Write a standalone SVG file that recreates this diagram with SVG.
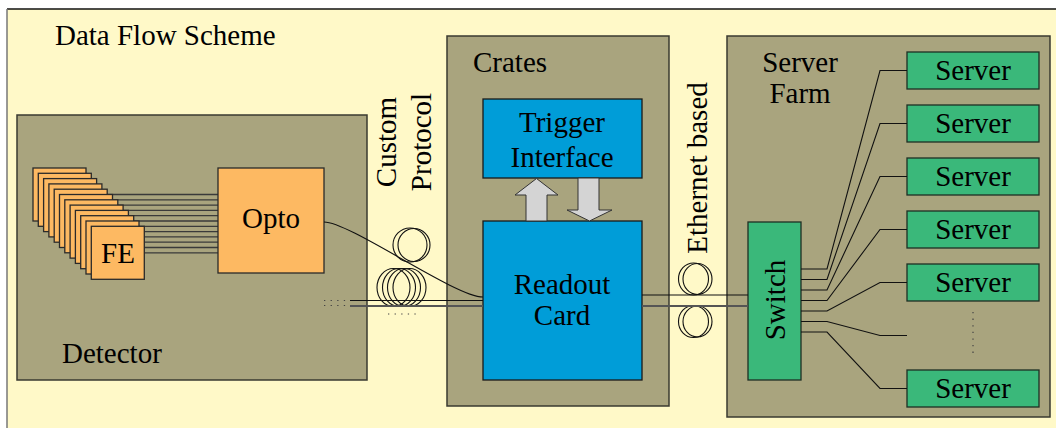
<svg xmlns="http://www.w3.org/2000/svg" width="1056" height="428" viewBox="0 0 1056 428">
  <style>
    text { font-family: 'Liberation Serif', 'DejaVu Serif', 'Times New Roman', serif; font-size: 29px; fill: #000; }
    .mid { text-anchor: middle; }
    .area { fill: #A9A47E; stroke: #3a3a30; stroke-width: 1.5; }
    .orange { fill: #FDB962; stroke: #2a2a2a; stroke-width: 1.3; }
    .blue { fill: #009DD8; stroke: #1a1a1a; stroke-width: 1.3; }
    .green { fill: #3AB87A; stroke: #1e2e24; stroke-width: 1.3; }
    .wire { fill: none; stroke: #111; stroke-width: 1.1; }
    .wire2 { fill: none; stroke: #555; stroke-width: 2; }
    .bus { fill: none; stroke: #3a3a3a; stroke-width: 1.3; }
    .loop { fill: none; stroke: #111; stroke-width: 1.1; }
    .dots { fill: none; stroke: #444; stroke-width: 1.2; stroke-dasharray: 1.3 5.3; }
    .flow { fill: #D4D4D4; stroke: #333; stroke-width: 1; }
  </style>

  <!-- page background and frame -->
  <rect x="0" y="0" width="1056" height="428" fill="#ffffff"/>
  <rect x="7" y="9" width="1060" height="430" fill="#FFF9C8"/>
  <line x1="7" y1="9" x2="1056" y2="9" stroke="#111" stroke-width="1.5"/>
  <line x1="7" y1="9" x2="7" y2="428" stroke="#777" stroke-width="1.5"/>

  <text x="55" y="45">Data Flow Scheme</text>

  <!-- Detector area -->
  <g id="detector">
    <rect class="area" x="17" y="115" width="350" height="265"/>
    <text x="62" y="363">Detector</text>
  </g>

  <!-- Front-end to Opto bundle (drawn under the FE stack) -->
  <g id="fe-bus">
    <line class="bus" x1="59.5" y1="194.5" x2="218" y2="194.5"/>
    <line class="bus" x1="64.8" y1="199.8" x2="218" y2="199.8"/>
    <line class="bus" x1="70.1" y1="205.1" x2="218" y2="205.1"/>
    <line class="bus" x1="75.4" y1="210.4" x2="218" y2="210.4"/>
    <line class="bus" x1="80.7" y1="215.7" x2="218" y2="215.7"/>
    <line class="bus" x1="86.0" y1="221.0" x2="218" y2="221.0"/>
    <line class="bus" x1="91.3" y1="226.3" x2="218" y2="226.3"/>
    <line class="bus" x1="96.6" y1="231.6" x2="218" y2="231.6"/>
    <line class="bus" x1="101.9" y1="236.9" x2="218" y2="236.9"/>
    <line class="bus" x1="107.2" y1="242.2" x2="218" y2="242.2"/>
    <line class="bus" x1="112.5" y1="247.5" x2="218" y2="247.5"/>
    <line class="bus" x1="117.8" y1="252.8" x2="218" y2="252.8"/>
  </g>

  <!-- Front-end card stack -->
  <g id="fe">
    <rect class="orange" x="33" y="168" width="53" height="53"/>
    <rect class="orange" x="38.3" y="173.3" width="53" height="53"/>
    <rect class="orange" x="43.6" y="178.6" width="53" height="53"/>
    <rect class="orange" x="48.9" y="183.9" width="53" height="53"/>
    <rect class="orange" x="54.2" y="189.2" width="53" height="53"/>
    <rect class="orange" x="59.5" y="194.5" width="53" height="53"/>
    <rect class="orange" x="64.8" y="199.8" width="53" height="53"/>
    <rect class="orange" x="70.1" y="205.1" width="53" height="53"/>
    <rect class="orange" x="75.4" y="210.4" width="53" height="53"/>
    <rect class="orange" x="80.7" y="215.7" width="53" height="53"/>
    <rect class="orange" x="86.0" y="221.0" width="53" height="53"/>
    <rect class="orange" x="91.3" y="226.3" width="53" height="53"/>
    <text class="mid" x="118" y="263">FE</text>
  </g>

  <g id="opto">
    <rect class="orange" x="218" y="168" width="106" height="105"/>
    <text class="mid" x="271" y="228">Opto</text>
  </g>

  <!-- Crates -->
  <g id="crates">
    <rect class="area" x="447" y="36" width="222" height="370"/>
    <text x="473" y="72">Crates</text>
  </g>

  <g id="trigger-interface">
    <rect class="blue" x="483" y="99" width="159" height="79"/>
    <text class="mid" x="562" y="132">Trigger</text>
    <text class="mid" x="562" y="167">Interface</text>
  </g>

  <g id="readout-card">
    <rect class="blue" x="483" y="221" width="159" height="159"/>
    <text class="mid" x="562" y="294">Readout</text>
    <text class="mid" x="562" y="325">Card</text>
  </g>

  <!-- Server farm -->
  <g id="server-farm">
    <rect class="area" x="727" y="36" width="323" height="381"/>
    <text class="mid" x="800" y="72">Server</text>
    <text class="mid" x="800" y="103">Farm</text>
  </g>

  <g id="switch">
    <rect class="green" x="748" y="222" width="53" height="158"/>
    <text class="mid" transform="translate(785,300) rotate(-90)">Switch</text>
  </g>

  <g id="server-1">
    <rect class="green" x="907" y="52" width="132" height="37"/>
    <text class="mid" x="973" y="80">Server</text>
  </g>
  <g id="server-2">
    <rect class="green" x="907" y="105" width="132" height="37"/>
    <text class="mid" x="973" y="133">Server</text>
  </g>
  <g id="server-3">
    <rect class="green" x="907" y="158" width="132" height="37"/>
    <text class="mid" x="973" y="186">Server</text>
  </g>
  <g id="server-4">
    <rect class="green" x="907" y="211" width="132" height="37"/>
    <text class="mid" x="973" y="239">Server</text>
  </g>
  <g id="server-5">
    <rect class="green" x="907" y="264" width="132" height="37"/>
    <text class="mid" x="973" y="292">Server</text>
  </g>
  <g id="server-n">
    <rect class="green" x="907" y="370" width="132" height="37"/>
    <text class="mid" x="973" y="398">Server</text>
  </g>

  <!-- link labels -->
  <text class="mid" transform="translate(396,142) rotate(-90)">Custom</text>
  <text class="mid" transform="translate(431,142) rotate(-90)">Protocol</text>
  <text class="mid" transform="translate(707,168) rotate(-90)">Ethernet based</text>

  <!-- Connectors -->
  <g id="connectors">
    <!-- trigger / readout exchange -->
    <path class="flow" d="M526,221 V195 H515 L536.5,178.5 L558,195 H547 V221 Z"/>
    <path class="flow" d="M578,178 V210 H567 L589.5,221 L612,210 H599 V178 Z"/>

    <!-- custom protocol fibre bundle -->
    <ellipse class="loop" cx="410" cy="245" rx="17" ry="17"/>
    <ellipse class="loop" cx="414" cy="245" rx="16" ry="16.5"/>
    <ellipse class="loop" cx="393.5" cy="287.5" rx="16.5" ry="19"/>
    <ellipse class="loop" cx="399" cy="287.5" rx="16.5" ry="19"/>
    <ellipse class="loop" cx="404" cy="287.5" rx="16.5" ry="19"/>
    <ellipse class="loop" cx="409.5" cy="287.5" rx="16.5" ry="19"/>
    <path class="wire" d="M324,222 C350,222 455,297 483,297"/>
    <line class="wire" x1="350" y1="300.5" x2="483" y2="300.5"/>
    <line class="wire2" x1="350" y1="306" x2="483" y2="306"/>
    <line class="dots" x1="324" y1="300.5" x2="348" y2="300.5"/>
    <line class="dots" x1="324" y1="305.5" x2="348" y2="305.5"/>
    <line class="dots" x1="388" y1="314" x2="416" y2="314"/>

    <!-- ethernet links -->
    <ellipse class="loop" cx="693.5" cy="279" rx="15" ry="16"/>
    <ellipse class="loop" cx="697.5" cy="279" rx="14.5" ry="15.5"/>
    <ellipse class="loop" cx="693.5" cy="321.5" rx="15" ry="16"/>
    <ellipse class="loop" cx="697.5" cy="321.5" rx="14.5" ry="15.5"/>
    <line class="wire" x1="642" y1="295" x2="748" y2="295"/>
    <line class="wire2" x1="642" y1="306" x2="748" y2="306"/>

    <!-- switch fan-out -->
    <polyline class="wire" points="801,269 827,269 880,70.5 907,70.5"/>
    <polyline class="wire" points="801,279.5 827,279.5 880,123.5 907,123.5"/>
    <polyline class="wire" points="801,290 827,290 880,176.5 907,176.5"/>
    <polyline class="wire" points="801,300.5 827,300.5 880,229.5 907,229.5"/>
    <polyline class="wire" points="801,311 827,311 880,282.5 907,282.5"/>
    <polyline class="wire" points="801,321.5 827,321.5 880,335.5 907,335.5"/>
    <polyline class="wire" points="801,332 827,332 880,388.5 907,388.5"/>
    <line class="dots" x1="973" y1="312" x2="973" y2="358" stroke-dasharray="1.3 3.8"/>
  </g>
</svg>
